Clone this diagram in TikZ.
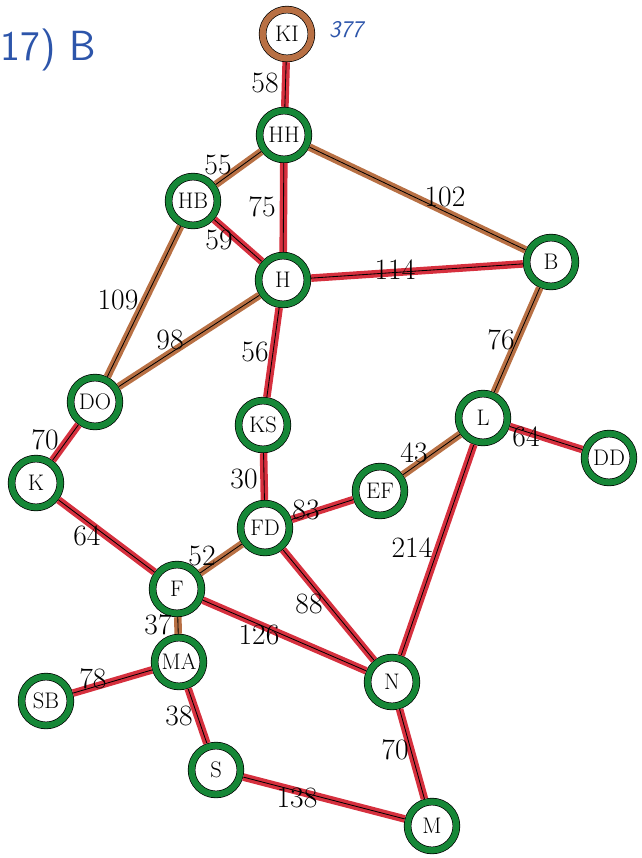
\documentclass[tikz,border=0pt]{standalone}
\usepackage{fontspec}
\definecolor{ringgreen}{RGB}{22,135,55}
\definecolor{penred}{RGB}{214,48,62}
\definecolor{penbrown}{RGB}{184,112,68}
\definecolor{inkblue}{RGB}{45,85,170}
\tikzset{
  city/.style={circle, draw=black, line width=0.5pt, double=ringgreen, double distance=4.4pt,
    fill=white, minimum size=1.22cm, inner sep=0pt, outer sep=2.7pt, font=\fontsize{16}{18}\selectfont},
  road/.style={draw=black, line width=0.6pt, preaction={draw=#1, line width=5.4pt}},
  dist/.style={font=\fontsize{21}{24}\selectfont, inner sep=0pt},
}
\begin{document}
\begin{tikzpicture}[x=0.025cm, y=-0.025cm]
    \useasboundingbox (0,0) rectangle (641,858);

    % Titel
    \node[font=\sffamily\fontsize{30}{32}\selectfont, text=inkblue, anchor=west] (title) at (-4,50) {17) B};
    \node[font=\sffamily\itshape\fontsize{17}{19}\selectfont, text=inkblue] (total) at (346,30) {377};

    % Staedte
    \node[city, double=penbrown] (KI) at (287,34) {KI};
    \node[city] (HH) at (284,135) {HH};
    \node[city] (HB) at (193,201) {HB};
    \node[city] (H) at (283,280) {H};
    \node[city] (B) at (551,262) {B};
    \node[city] (DO) at (95,402) {DO};
    \node[city] (KS) at (263,425) {KS};
    \node[city] (L) at (483,418) {L};
    \node[city] (DD) at (609,458) {DD};
    \node[city] (K) at (36,483) {K};
    \node[city] (EF) at (380,491) {EF};
    \node[city] (FD) at (265,528) {FD};
    \node[city] (F) at (177,589) {F};
    \node[city] (MA) at (179,662) {MA};
    \node[city] (N) at (392,682) {N};
    \node[city] (SB) at (46,701) {SB};
    \node[city] (S) at (216,770) {S};
    \node[city] (M) at (432,826) {M};

    % Strecken
    \foreach \a/\b/\c in {KI/HH/penred, HH/HB/penbrown, HH/H/penred, HH/B/penbrown,
        HB/H/penred, HB/DO/penbrown, H/B/penred, H/DO/penbrown, H/KS/penred,
        B/L/penbrown, DO/K/penred, KS/FD/penred, L/EF/penbrown, L/DD/penred,
        L/N/penred, K/F/penred, FD/EF/penred, FD/F/penbrown, FD/N/penred,
        F/MA/penbrown, F/N/penred, MA/SB/penred, MA/S/penred, N/M/penred, S/M/penred}
        \draw[road=\c] (\a) -- (\b);

    % Entfernungen
    \node[dist] (d58) at (265,83) {58};
    \node[dist] (d55) at (218,165) {55};
    \node[dist] (d75) at (262,207) {75};
    \node[dist] (d102) at (445,197) {102};
    \node[dist] (d59) at (219,240) {59};
    \node[dist] (d114) at (395,270) {114};
    \node[dist] (d109) at (118,300) {109};
    \node[dist] (d98) at (170,340) {98};
    \node[dist] (d56) at (255,352) {56};
    \node[dist] (d76) at (501,340) {76};
    \node[dist] (d70a) at (45,440) {70};
    \node[dist] (d43) at (414,453) {43};
    \node[dist] (d64a) at (526,437) {64};
    \node[dist] (d30) at (244,479) {30};
    \node[dist] (d83) at (306,510) {83};
    \node[dist] (d214) at (412,548) {214};
    \node[dist] (d64b) at (87,536) {64};
    \node[dist] (d52) at (202,556) {52};
    \node[dist] (d88) at (309,604) {88};
    \node[dist] (d37) at (158,625) {37};
    \node[dist] (d126) at (259,635) {126};
    \node[dist] (d78) at (93,679) {78};
    \node[dist] (d38) at (179,716) {38};
    \node[dist] (d70b) at (395,750) {70};
    \node[dist] (d138) at (297,798) {138};
\end{tikzpicture}
\end{document}
